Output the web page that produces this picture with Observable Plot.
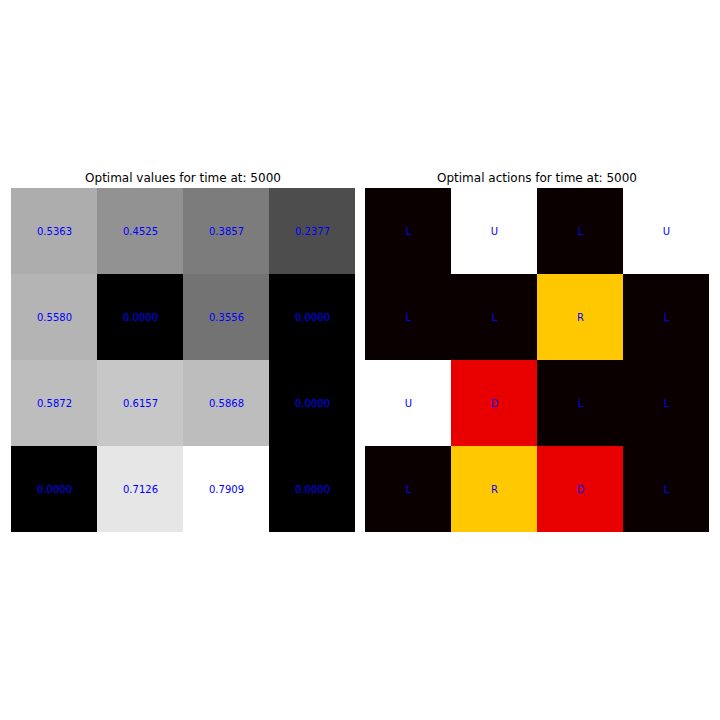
<!DOCTYPE html>
<html>
<head>
<meta charset="utf-8">
<script src="https://cdn.jsdelivr.net/npm/d3@7"></script>
<script src="https://cdn.jsdelivr.net/npm/@observablehq/plot@0.6"></script>
<style>
  body { margin: 0; background: #fff; }
  #root { position: relative; width: 720px; height: 720px; font-family: "DejaVu Sans", sans-serif; }
  .title { position: absolute; width: 344px; text-align: center; font-size: 12px; color: #000; line-height: 14px; }
  .panel { position: absolute; width: 344px; height: 344px; }
</style>
</head>
<body>
<div id="root">
  <div class="title" style="left:11px; top:171px;">Optimal values for time at: 5000</div>
  <div class="title" style="left:365px; top:171px;">Optimal actions for time at: 5000</div>
  <div class="panel" id="left" style="left:11px; top:188px;"></div>
  <div class="panel" id="right" style="left:365px; top:188px;"></div>
</div>
<script>
const rows = [0, 1, 2, 3];
const cols = [0, 1, 2, 3];
const values = [
  0.5363, 0.4525, 0.3857, 0.2377,
  0.5580, 0.0000, 0.3556, 0.0000,
  0.5872, 0.6157, 0.5868, 0.0000,
  0.0000, 0.7126, 0.7909, 0.0000
];
const actions = [
  "L", "U", "L", "U",
  "L", "L", "R", "L",
  "U", "D", "L", "L",
  "L", "R", "D", "L"
];
const actionOrder = ["L", "D", "R", "U"];
const actionColors = ["#0b0000", "#e80000", "#ffc800", "#ffffff"];

const valueData = values.map((v, i) => ({row: Math.floor(i / 4), col: i % 4, v}));
const actionData = actions.map((a, i) => ({row: Math.floor(i / 4), col: i % 4, a}));

const common = {
  width: 344, height: 344,
  margin: 0,
  x: {domain: cols, padding: 0, axis: null},
  y: {domain: rows, padding: 0, axis: null},
  style: {fontFamily: "DejaVu Sans, sans-serif", background: "transparent"}
};

const left = Plot.plot({
  ...common,
  color: {type: "linear", domain: [0, d3.max(values)], range: ["#000000", "#ffffff"], interpolate: "rgb"},
  marks: [
    Plot.cell(valueData, {x: "col", y: "row", fill: "v", inset: 0, shapeRendering: "crispEdges"}),
    Plot.text(valueData, {x: "col", y: "row", text: d => d.v.toFixed(4), fill: "blue", fontSize: 10})
  ]
});
document.getElementById("left").appendChild(left);

const right = Plot.plot({
  ...common,
  color: {type: "ordinal", domain: actionOrder, range: actionColors},
  marks: [
    Plot.cell(actionData, {x: "col", y: "row", fill: "a", inset: 0, shapeRendering: "crispEdges"}),
    Plot.text(actionData, {x: "col", y: "row", text: "a", fill: "blue", fontSize: 10})
  ]
});
document.getElementById("right").appendChild(right);
</script>
</body>
</html>
